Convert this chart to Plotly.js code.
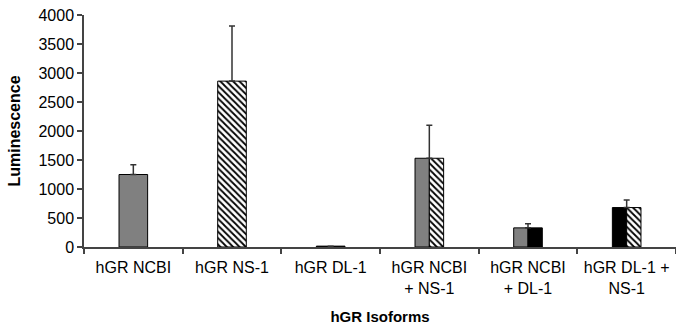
<!DOCTYPE html>
<html>
<head>
<meta charset="utf-8">
<script src="https://cdn.plot.ly/plotly-3.0.1.min.js"></script>
<style>html,body{margin:0;padding:0;background:#fff;overflow:hidden;}</style>
</head>
<body>
<div id="chart" style="width:676px;height:330px;"></div>
<script>
// Data
const categories = ['hGR NCBI', 'hGR NS-1', 'hGR DL-1', 'hGR NCBI<br>+ NS-1', 'hGR NCBI<br>+ DL-1', 'hGR DL-1 +<br>NS-1'];
const means = [1250, 2860, 15, 1530, 330, 680];
const errors = [170, 950, 0, 570, 70, 130];
// fill of the left half and right half of each bar
const leftFill = ['gray', 'hatch', 'black', 'gray', 'gray', 'black'];
const rightFill = ['gray', 'hatch', 'black', 'hatch', 'black', 'hatch'];

const fullW = 0.29, halfW = fullW / 2;

function fillTrace(fill, color, pattern) {
  const y = [], w = [], off = [];
  categories.forEach((c, i) => {
    const L = leftFill[i] === fill, R = rightFill[i] === fill;
    if (L && R) { y.push(means[i]); w.push(fullW); off.push(-halfW); }
    else if (L) { y.push(means[i]); w.push(halfW); off.push(-halfW); }
    else if (R) { y.push(means[i]); w.push(halfW); off.push(0); }
    else { y.push(null); w.push(halfW); off.push(0); }
  });
  const marker = {color: color, line: {color: '#000', width: 1}};
  if (pattern) marker.pattern = pattern;
  return {type: 'bar', x: categories, y: y, width: w, offset: off, marker: marker,
          hoverinfo: 'skip', showlegend: false};
}

const grayTrace = fillTrace('gray', '#808080');
const blackTrace = fillTrace('black', '#000000');
const hatchTrace = fillTrace('hatch', '#000000',
  {shape: '\\', fgcolor: '#000000', bgcolor: '#ffffff', size: 4.5, solidity: 0.4, fillmode: 'replace'});

const errTrace = {
  type: 'scatter', mode: 'markers', x: categories, y: means,
  marker: {opacity: 0, size: 1},
  error_y: {type: 'data', symmetric: false, array: errors, arrayminus: errors.map(() => 0),
            color: '#333', thickness: 1.5, width: 3},
  hoverinfo: 'skip', showlegend: false
};

const layout = {
  width: 676, height: 330,
  margin: {l: 84, r: 0, t: 15, b: 83},
  paper_bgcolor: '#fff', plot_bgcolor: '#fff',
  font: {family: 'Liberation Sans, Arial, sans-serif', size: 16, color: '#000'},
  barmode: 'overlay',
  xaxis: {
    type: 'category', showline: true, linecolor: '#444', linewidth: 1.5,
    ticks: 'outside', tickson: 'boundaries', ticklen: 5, tickcolor: '#444', tickwidth: 1.5,
    ticklabelstandoff: 5,
    showgrid: false, zeroline: false,
    tickfont: {size: 16},
    title: {text: '<b>hGR Isoforms</b>', font: {size: 15}, standoff: 16}
  },
  yaxis: {
    range: [0, 4000], dtick: 500, showline: true, linecolor: '#444', linewidth: 1.5,
    ticks: 'outside', ticklen: 5, tickcolor: '#444', tickwidth: 1.5,
    showgrid: false, zeroline: false,
    tickfont: {size: 16},
    title: {text: '<b>Luminescence</b>', font: {size: 16}, standoff: 14}
  }
};

Plotly.newPlot('chart', [grayTrace, blackTrace, hatchTrace, errTrace], layout, {displayModeBar: false});
</script>
</body>
</html>
